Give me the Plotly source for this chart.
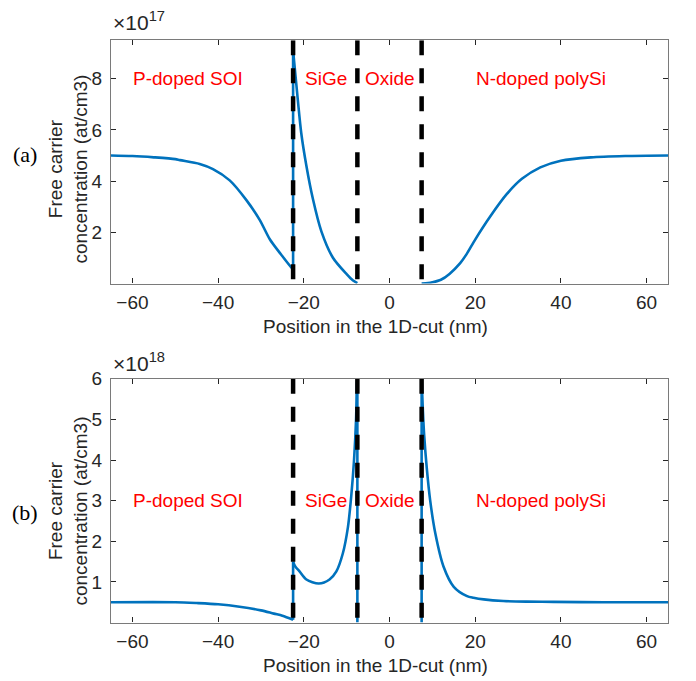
import plotly.graph_objects as go

# ---------------- data ----------------
# panel (a): free carrier concentration, units of 1e17 at/cm3
a_p_x = [-65, -60, -55, -50, -48.9, -44.3, -41.2, -37.3, -33.4, -30.3, -27.9, -25.6, -22.9, -22.5]
a_p_y = [5.0, 4.98, 4.93, 4.86, 4.82, 4.67, 4.47, 4.03, 3.26, 2.49, 1.72, 1.2, 0.63, 0.58]
a_s_x = [-22.5, -21.4, -20.6, -19.4, -17.9, -15.9, -13.2, -10.0, -8.5, -7.5]
a_s_y = [9.1, 7.17, 5.88, 4.6, 3.32, 2.04, 1.01, 0.37, 0.12, 0.02]
a_n_x = [7.5, 9, 10, 12, 14, 16.5, 18, 20, 23.5, 27.4, 30.9, 35.2, 40, 47, 55, 65]
a_n_y = [0.0, 0.02, 0.05, 0.15, 0.38, 0.8, 1.15, 1.72, 2.62, 3.5, 4.09, 4.54, 4.8, 4.93, 4.98, 5.0]

# panel (b): free carrier concentration, units of 1e18 at/cm3
b_p_x = [-65, -50, -45, -40, -35, -30, -27, -25, -22.5]
b_p_y = [0.5, 0.5, 0.48, 0.45, 0.39, 0.3, 0.22, 0.17, 0.07]
b_s_x = [-22.5, -22.0, -21.0, -19.4, -16.5, -14.0, -12.4, -10.9, -9.7, -8.9, -8.3, -7.8, -7.6, -7.5]
b_s_y = [1.5, 1.38, 1.26, 1.06, 0.96, 1.06, 1.26, 1.70, 2.35, 3.15, 3.96, 5.01, 5.9, 6.0]
b_n_x = [7.5, 7.8, 8.1, 8.7, 9.5, 10.7, 12.6, 15.0, 18.1, 19.6, 22, 26.6, 32, 38.3, 50, 65]
b_n_y = [6.0, 5.2, 4.6, 3.8, 3.0, 2.19, 1.38, 0.88, 0.65, 0.61, 0.57, 0.53, 0.515, 0.51, 0.5, 0.5]
oxide_level = 0.0

boundaries = [-22.5, -7.5, 7.5]
region_names = ["P-doped SOI", "SiGe", "Oxide", "N-doped polySi"]
region_x = [-60, -20, -6, 20]
label_y_a = 8
label_y_b = 3

x_ticks = [-60, -40, -20, 0, 20, 40, 60]
a_ticks = [2, 4, 6, 8]
b_ticks = [1, 2, 3, 4, 5, 6]
a_range = [0, 9.5]
b_range = [0, 6]
x_range = [-65, 65]

# ---------------- layout helpers ----------------
W, H = 696, 681
def px(x):
    return x / W
def py(y):
    return 1 - y / H

BLUE = "#0072BD"
TXT = "#262626"
FONT = "Liberation Sans, Arial, sans-serif"
FS = 19
LW = 2.6

fig = go.Figure()

def curve(xs, ys, xa, ya, shape="spline"):
    fig.add_trace(go.Scatter(x=xs, y=ys, mode="lines",
                             line=dict(color=BLUE, width=LW, shape=shape,
                                       smoothing=0.8 if shape == "spline" else None),
                             xaxis=xa, yaxis=ya, showlegend=False, hoverinfo="skip"))

# panel (a)
curve(a_p_x, a_p_y, "x", "y")
curve([a_p_x[-1], a_s_x[0]], [a_p_y[-1], a_s_y[0]], "x", "y", "linear")
curve(a_s_x, a_s_y, "x", "y")
curve(a_n_x, a_n_y, "x", "y")
# panel (b)
curve(b_p_x, b_p_y, "x2", "y2")
curve([b_p_x[-1], b_s_x[0]], [b_p_y[-1], b_s_y[0]], "x2", "y2", "linear")
curve(b_s_x, b_s_y, "x2", "y2")
curve([b_s_x[-1], b_s_x[-1]], [b_s_y[-1], oxide_level], "x2", "y2", "linear")
curve([b_n_x[0], b_n_x[0]], [oxide_level, b_n_y[0]], "x2", "y2", "linear")
curve(b_n_x, b_n_y, "x2", "y2")

# dashed boundaries (drawn top->bottom so dashes start at top)
for bx in boundaries:
    fig.add_trace(go.Scatter(x=[bx, bx], y=[a_range[1], a_range[0]], mode="lines",
                             line=dict(color="black", width=4.5, dash="15px,13px"),
                             xaxis="x", yaxis="y", showlegend=False, hoverinfo="skip"))
    fig.add_trace(go.Scatter(x=[bx, bx], y=[b_range[1], b_range[0]], mode="lines",
                             line=dict(color="black", width=4.5, dash="15px,13px"),
                             xaxis="x2", yaxis="y2", showlegend=False, hoverinfo="skip"))

ax_common = dict(showline=True, linecolor="#7a7a7a", linewidth=1.3, mirror="ticks",
                 ticks="inside", ticklen=5, tickwidth=1, tickcolor=TXT,
                 showgrid=False, zeroline=False,
                 tickfont=dict(family=FONT, size=FS, color=TXT))

dom_x = [px(111), px(668)]
fig.update_layout(
    width=W, height=H, margin=dict(l=0, r=0, t=0, b=0),
    paper_bgcolor="white", plot_bgcolor="white",
    xaxis=dict(domain=dom_x, range=x_range, tickvals=x_ticks, anchor="y",
               ticklabelstandoff=1, **ax_common),
    yaxis=dict(domain=[py(277.7), py(30.7)], range=a_range, tickvals=a_ticks, anchor="x",
               ticklabelstandoff=4, **ax_common),
    xaxis2=dict(domain=dom_x, range=x_range, tickvals=x_ticks, anchor="y2",
                ticklabelstandoff=1, **ax_common),
    yaxis2=dict(domain=[py(621.7), py(374.3)], range=b_range, tickvals=b_ticks, anchor="x2",
                ticklabelstandoff=4, **ax_common),
)

ann = []
for name, rx in zip(region_names, region_x):
    ann.append(dict(x=rx, y=label_y_a, xref="x", yref="y", text=name, showarrow=False,
                    xanchor="left", yanchor="middle", borderpad=0,
                    font=dict(family=FONT, size=FS, color="#FF0000")))
    ann.append(dict(x=rx, y=label_y_b, xref="x2", yref="y2", text=name, showarrow=False,
                    xanchor="left", yanchor="middle", borderpad=0,
                    font=dict(family=FONT, size=FS, color="#FF0000")))

for yc in (162, 509):
    ann.append(dict(x=px(68), y=py(yc), xref="paper", yref="paper",
                    text="Free carrier<br>concentration (at/cm3)", textangle=-90,
                    showarrow=False, xanchor="center", yanchor="middle",
                    font=dict(family=FONT, size=FS, color=TXT)))
for yc in (321.5, 665):
    ann.append(dict(x=px(375), y=py(yc), xref="paper", yref="paper",
                    text="Position in the 1D-cut (nm)", showarrow=False,
                    xanchor="center", yanchor="middle",
                    font=dict(family=FONT, size=FS, color=TXT)))

for yc, e in ((11, "17"), (357, "18")):
    ann.append(dict(x=px(112), y=py(yc), xref="paper", yref="paper",
                    text="×10<sup>" + e + "</sup>", showarrow=False,
                    xanchor="left", yanchor="middle", borderpad=0,
                    font=dict(family=FONT, size=21, color=TXT)))

for yc, t in ((147, "(a)"), (510, "(b)")):
    ann.append(dict(x=px(25.5), y=py(yc), xref="paper", yref="paper", text=t,
                    showarrow=False, xanchor="center", yanchor="middle",
                    font=dict(family="Liberation Serif, Times New Roman, serif", size=22, color="black")))

fig.update_layout(annotations=ann)
fig.write_html("out.html", config={"displayModeBar": False},
               post_script="document.body.style.margin='0px';")
